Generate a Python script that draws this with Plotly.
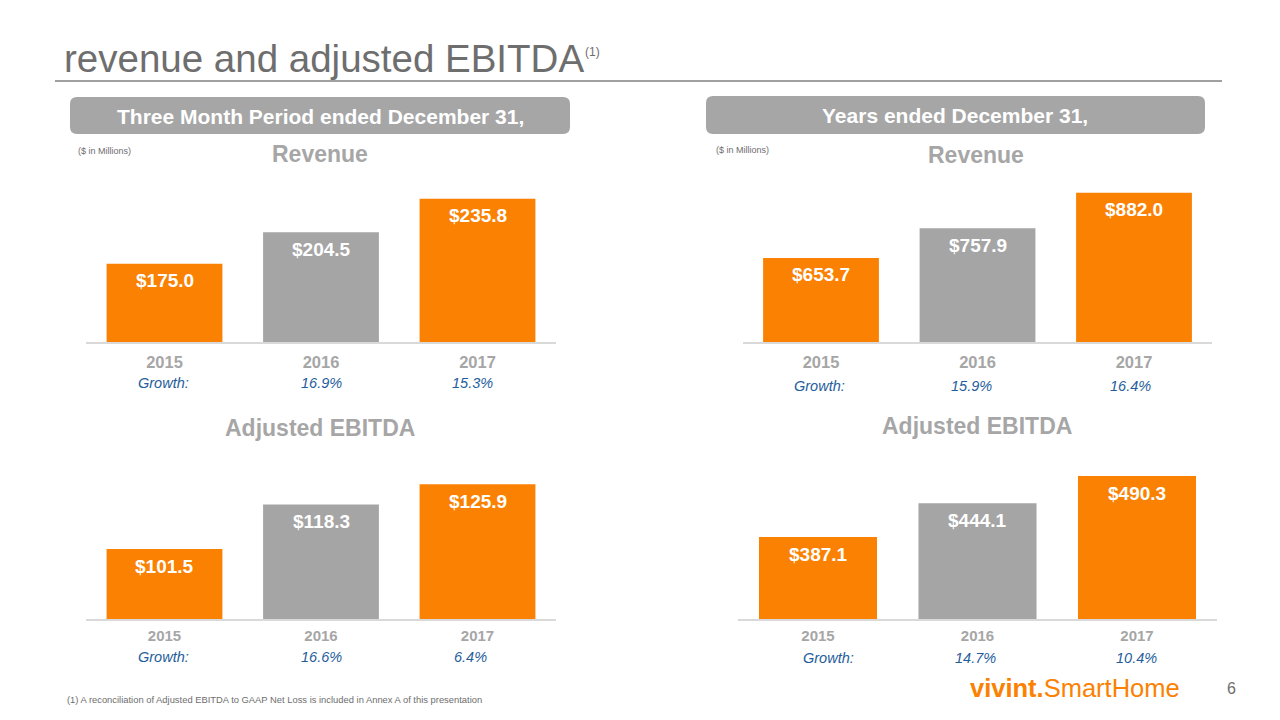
import plotly.graph_objects as go

W, H = 1280, 720
OFF = 8  # page body margin offset
FONT = "Liberation Sans, Arial, sans-serif"

years = ["2015", "2016", "2017"]
q_revenue = [175.0, 204.5, 235.8]
y_revenue = [653.7, 757.9, 882.0]
q_ebitda = [101.5, 118.3, 125.9]
y_ebitda = [387.1, 444.1, 490.3]
q_rev_growth = ["16.9%", "15.3%"]
y_rev_growth = ["15.9%", "16.4%"]
q_ebitda_growth = ["16.6%", "6.4%"]
y_ebitda_growth = ["14.7%", "10.4%"]

ORANGE = "#FB8102"
GREY_BAR = "#A5A5A5"
BLUE = "#1F5E9C"
TICK_GREY = "#A6A6A6"
TEXT_GREY = "#6E6E6E"
bar_colors = [ORANGE, GREY_BAR, ORANGE]


def px(x):
    return (x - OFF) / W


def py(y):
    return 1 - (y - OFF) / H


# panel geometry (pixels): x domain, y domain (bottom, top), y range
panels = [
    dict(vals=q_revenue, growth=q_rev_growth, xd=(86.25, 555.75), yd=(342, 182), yr=(102, 251.5), tick=16.5, tl=4),
    dict(vals=y_revenue, growth=y_rev_growth, xd=(742.75, 1212.25), yd=(342, 182), yr=(359, 920), tick=16.5, tl=4),
    dict(vals=q_ebitda, growth=q_ebitda_growth, xd=(86.25, 555.75), yd=(619, 459), yr=(75.2, 135.4), tick=15, tl=2),
    dict(vals=y_ebitda, growth=y_ebitda_growth, xd=(738.25, 1216.75), yd=(619, 459), yr=(248.4, 519.1), tick=15, tl=2),
]
growth_y = [383, 386, 657, 658]
growth_xshift = [[0, -5], [-6, -4], [0, -7], [-2, -1]]
growth_label_x = [163, 819, 163, 828]

fig = go.Figure()
annotations = []
layout_axes = {}

for i, p in enumerate(panels):
    n = "" if i == 0 else str(i + 1)
    fig.add_trace(go.Bar(
        x=years, y=p["vals"], marker=dict(color=bar_colors, line=dict(width=0)),
        width=0.74, xaxis="x" + n, yaxis="y" + n, showlegend=False, hoverinfo="skip",
    ))
    layout_axes["xaxis" + n] = dict(
        domain=[px(p["xd"][0]), px(p["xd"][1])], anchor="y" + n,
        type="category", range=[-0.5, 2.5], autorange=False, automargin=False,
        showline=True, linecolor="#D9D9D9", linewidth=1.5,
        showgrid=False, zeroline=False, ticks="outside", ticklen=p["tl"],
        tickcolor="rgba(0,0,0,0)",
        tickfont=dict(family=FONT, size=p["tick"], color=TICK_GREY, weight="bold"),
        fixedrange=True,
    )
    layout_axes["yaxis" + n] = dict(
        domain=[py(p["yd"][0]), py(p["yd"][1])], anchor="x" + n,
        range=list(p["yr"]), autorange=False, automargin=False,
        visible=False, showgrid=False, zeroline=False, fixedrange=True,
    )
    # value labels inside bars
    for k, v in enumerate(p["vals"]):
        annotations.append(dict(
            x=k, y=v, xref="x" + n, yref="y" + n, text=f"<b>${v:.1f}</b>",
            showarrow=False, yshift=-17, yanchor="middle",
            font=dict(family=FONT, size=19, color="white"),
        ))
    # growth row
    annotations.append(dict(
        x=px(growth_label_x[i]), y=py(growth_y[i]), xref="paper", yref="paper",
        text="<i>Growth:</i>", showarrow=False, xanchor="center", yanchor="middle",
        font=dict(family=FONT, size=14.5, color=BLUE),
    ))
    for k, g in enumerate(p["growth"]):
        annotations.append(dict(
            x=k + 1, y=py(growth_y[i]), xref="x" + n, yref="paper",
            text=f"<i>{g}</i>", showarrow=False, xanchor="center", yanchor="middle",
            xshift=growth_xshift[i][k],
            font=dict(family=FONT, size=14.5, color=BLUE),
        ))


def rounded_rect(x0, y0, x1, y1, r):
    X0, X1 = px(x0), px(x1)
    Y0, Y1 = py(y1), py(y0)  # bottom, top in paper
    rx, ry = r / W, r / H
    return (f"M {X0+rx} {Y1} L {X1-rx} {Y1} Q {X1} {Y1} {X1} {Y1-ry} "
            f"L {X1} {Y0+ry} Q {X1} {Y0} {X1-rx} {Y0} L {X0+rx} {Y0} "
            f"Q {X0} {Y0} {X0} {Y0+ry} L {X0} {Y1-ry} Q {X0} {Y1} {X0+rx} {Y1} Z")


shapes = [
    dict(type="line", xref="paper", yref="paper", x0=px(55), x1=px(1222), y0=py(81), y1=py(81),
         line=dict(color="#808080", width=1.5)),
    dict(type="path", xref="paper", yref="paper", path=rounded_rect(70, 97, 570, 134, 7),
         fillcolor="#A6A6A6", line=dict(width=0)),
    dict(type="path", xref="paper", yref="paper", path=rounded_rect(706, 96, 1205, 134, 7),
         fillcolor="#A6A6A6", line=dict(width=0)),
]

texts = [
    # (text, x, y, size, color, anchor, bold)
    ("revenue and adjusted EBITDA", 62, 59, 38.5, TEXT_GREY, "left", False),
    ("(1)", 583, 52, 12, TEXT_GREY, "left", False),
    ("Three Month Period ended December 31,", 320, 116, 21, "white", "center", True),
    ("Years ended December 31,", 955, 115, 21, "white", "center", True),
    ("($ in Millions)", 76, 151, 9, TEXT_GREY, "left", False),
    ("($ in Millions)", 714, 150, 9, TEXT_GREY, "left", False),
    ("Revenue", 320, 154, 23, TICK_GREY, "center", True),
    ("Revenue", 976, 155, 23, TICK_GREY, "center", True),
    ("Adjusted EBITDA", 320, 428, 23, TICK_GREY, "center", True),
    ("Adjusted EBITDA", 977, 426, 23, TICK_GREY, "center", True),
    ("(1) A reconciliation of Adjusted EBITDA to GAAP Net Loss is included in Annex A of this presentation",
     65, 699, 9.4, TEXT_GREY, "left", False),
    ("6", 1231, 688, 16, TEXT_GREY, "center", False),
]
for t, x, y, s, c, a, b in texts:
    annotations.append(dict(
        text=(f"<b>{t}</b>" if b else t), x=px(x), y=py(y), xref="paper", yref="paper",
        showarrow=False, xanchor=a, yanchor="middle",
        font=dict(family=FONT, size=s, color=c),
    ))

annotations.append(dict(
    text="<b>vivint.</b>SmartHome", x=px(968), y=py(688), xref="paper", yref="paper",
    showarrow=False, xanchor="left", yanchor="middle",
    font=dict(family=FONT, size=25.5, color=ORANGE),
))

fig.update_layout(
    width=W, height=H, margin=dict(l=0, r=0, t=0, b=0, pad=0, autoexpand=False),
    paper_bgcolor="white", plot_bgcolor="white",
    annotations=annotations, shapes=shapes,
    **layout_axes,
)

fig.write_html("out.html", config={"displayModeBar": False})
